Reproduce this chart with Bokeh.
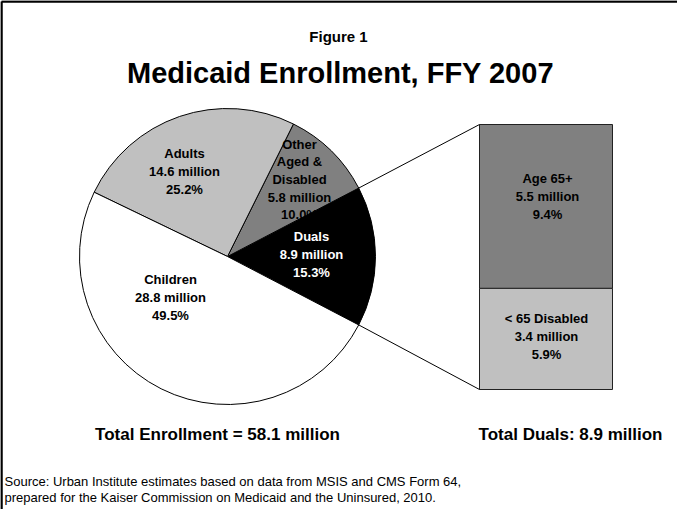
import numpy as np
from bokeh.plotting import figure
from bokeh.models import Range1d, ColumnDataSource
from bokeh.embed import file_html
from bokeh.resources import INLINE
from bokeh.core.properties import value

# ---------------- data ----------------
categories = ["Duals", "Other\nAged &\nDisabled", "Adults", "Children"]
enroll_millions = [8.9, 5.8, 14.6, 28.8]
enroll_pct = [15.3, 10.0, 25.2, 49.5]
total_enrollment = 58.1

dual_parts = ["< 65 Disabled", "Age 65+"]
dual_millions = [3.4, 5.5]
dual_pct = [5.9, 9.4]
total_duals = 8.9

title_top = "Figure 1"
title_main = "Medicaid Enrollment, FFY 2007"
source_note = ("Source: Urban Institute estimates based on data from MSIS and CMS Form 64,\n"
               "prepared for the Kaiser Commission on Medicaid and the Uninsured, 2010.")

# ---------------- styles / layout ----------------
W, H = 677, 509
FONT = value("Liberation Sans")
pie_colors = ["#000000", "#808080", "#c0c0c0", "#ffffff"]
pie_text_colors = ["#ffffff", "#000000", "#000000", "#000000"]
bar_colors = ["#c0c0c0", "#808080"]

def sy(screen_y):
    # screen pixel y (page coordinates) -> data y
    return 525 - screen_y

cx, cy, R = 235, sy(264), 148
# label anchors (page pixels) for pie slices, in category order
pie_label_xy = [(319, 262), (307, 187), (192, 179), (178, 305)]
bar_left, bar_right = 487, 620
bar_bottom_px, bar_top_px = 397, 132
bar_label_xy = [(554, 344), (555, 204)]

p = figure(width=W, height=H, output_backend="svg", toolbar_location=None,
           x_range=Range1d(8, 8 + W), y_range=Range1d(sy(8 + H), sy(8)),
           min_border=0, outline_line_color=None)
p.axis.visible = False
p.grid.visible = False
p.background_fill_color = "white"
p.border_fill_color = "white"

# frame border (top and left)
p.segment(x0=[9, 9], y0=[sy(9), sy(9)], x1=[9, 700], y1=[sy(530), sy(9)],
          line_color="black", line_width=2.5)

# ---------------- pie ----------------
pct = np.array(enroll_pct)
start0 = -pct[0] / 100 * np.pi  # first slice centred on 0 rad
cum = np.concatenate([[0], np.cumsum(pct)])
starts = start0 + cum[:-1] / cum[-1] * 2 * np.pi
ends = start0 + cum[1:] / cum[-1] * 2 * np.pi

pie_src = ColumnDataSource(dict(start=starts, end=ends, color=pie_colors))
p.wedge(x=cx, y=cy, radius=R, start_angle="start", end_angle="end",
        fill_color="color", line_color="black", line_width=1, source=pie_src)

pie_texts = [f"{c}\n{m} million\n{v:.1f}%" for c, m, v in
             zip(categories, enroll_millions, enroll_pct)]
p.text(x=[xy[0] for xy in pie_label_xy], y=[sy(xy[1]) for xy in pie_label_xy],
       text=pie_texts, text_color=pie_text_colors, text_font=FONT,
       text_font_style="bold", text_font_size="13px", text_align="center",
       text_baseline="middle", text_line_height=1.18)

# ---------------- stacked bar for duals ----------------
px_per_million = (bar_bottom_px - bar_top_px) / total_duals
y0 = sy(bar_bottom_px)
p.extra_y_ranges = {"duals": Range1d((sy(8 + H) - y0) / px_per_million,
                                     (sy(8) - y0) / px_per_million)}
dm = np.array(dual_millions)
dcum = np.concatenate([[0], np.cumsum(dm)])
p.quad(left=bar_left, right=bar_right, bottom=dcum[:-1], top=dcum[1:],
       fill_color=bar_colors, line_color="#222222", line_width=1,
       y_range_name="duals")

bar_texts = [f"{n}\n{m} million\n{v:.1f}%" for n, m, v in
             zip(dual_parts, dual_millions, dual_pct)]
p.text(x=[xy[0] for xy in bar_label_xy], y=[sy(xy[1]) for xy in bar_label_xy],
       text=bar_texts, text_color="black", text_font=FONT,
       text_font_style="bold", text_font_size="13px", text_align="center",
       text_baseline="middle", text_line_height=1.18)

# connector lines from duals slice edges to bar corners
a_top, a_bot = ends[0], starts[0]
p.segment(x0=[cx + R * np.cos(a_top), cx + R * np.cos(a_bot)],
          y0=[cy + R * np.sin(a_top), cy + R * np.sin(a_bot)],
          x1=[bar_left, bar_left], y1=[sy(bar_top_px), sy(bar_bottom_px)],
          line_color="black", line_width=1)

# ---------------- titles and notes ----------------
p.text(x=[346], y=[sy(44)], text=[title_top], text_font=FONT, text_font_style="bold",
       text_font_size="15px", text_align="center", text_baseline="middle")
p.text(x=[348], y=[sy(80)], text=[title_main], text_font=FONT, text_font_style="bold",
       text_font_size="29px", text_align="center", text_baseline="middle")
p.text(x=[225], y=[sy(442)], text=[f"Total Enrollment = {total_enrollment} million"],
       text_font=FONT, text_font_style="bold", text_font_size="17px",
       text_align="center", text_baseline="middle")
p.text(x=[578], y=[sy(442)], text=[f"Total Duals: {total_duals} million"],
       text_font=FONT, text_font_style="bold", text_font_size="17px",
       text_align="center", text_baseline="middle")
p.text(x=[12], y=[sy(497)], text=[source_note], text_font=FONT,
       text_font_size="13px", text_align="left", text_baseline="middle",
       text_line_height=1.08)

open("out.html", "w").write(file_html(p, INLINE))
